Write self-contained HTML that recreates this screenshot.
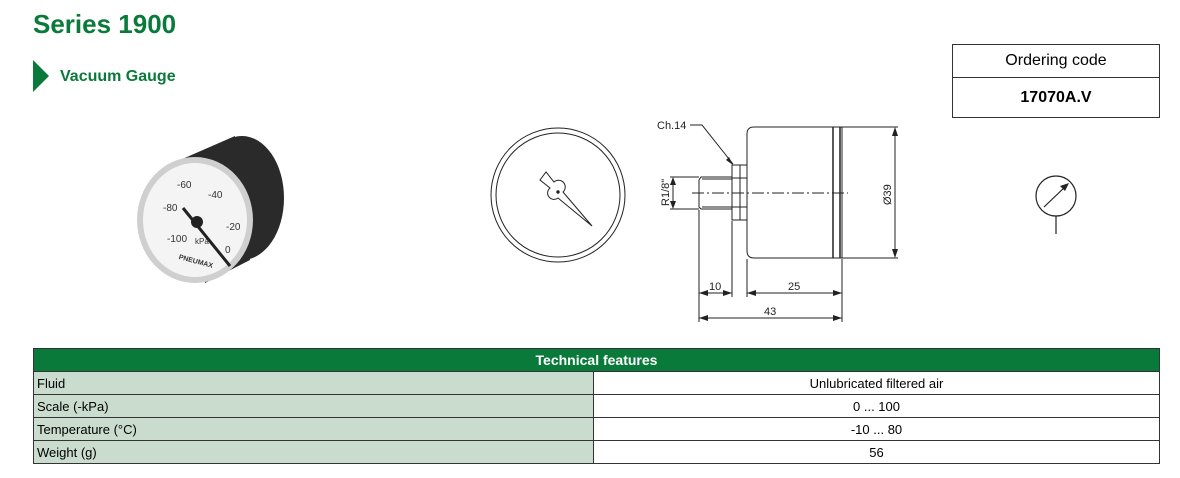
<!DOCTYPE html>
<html><head><style>
body{margin:0;width:1180px;height:478px;background:#fff;font-family:"Liberation Sans",Arial,sans-serif;position:relative;overflow:hidden}
.abs{position:absolute}
table{border-collapse:collapse}
td{border:1px solid #333;font-size:13px;height:22px;padding:0 3px}
</style></head><body>
<div class="abs" style="left:33px;top:9px;font-size:26px;font-weight:bold;color:#0a7a3a">Series 1900</div>
<div class="abs" style="left:33px;top:60px;width:0;height:0;border-top:16px solid transparent;border-bottom:16px solid transparent;border-left:16px solid #0a7a3a"></div>
<div class="abs" style="left:60px;top:68px;font-size:16px;font-weight:bold;color:#0a7a3a">Vacuum Gauge</div>
<div class="abs" style="left:952px;top:44px;width:206px;height:72px;border:1px solid #333">
 <div style="height:32px;border-bottom:1px solid #333;text-align:center;line-height:32px;font-size:16px">Ordering code</div>
 <div style="text-align:center;line-height:39px;font-size:16px;font-weight:bold">17070A.V</div>
</div>
<svg class="abs" style="left:0;top:0" width="1180" height="340">
 <g>
  <ellipse cx="242" cy="198" rx="42" ry="62" fill="#2a2a2a"/>
  <path d="M180 160 L235 136 L250 260 L205 283 Z" fill="#2a2a2a"/>
  <ellipse cx="195" cy="220" rx="58" ry="63" fill="#cfcfcf"/>
  <ellipse cx="195" cy="220" rx="52" ry="57" fill="#f4f4f4"/>
  <g font-size="10" fill="#333"><text x="177" y="188">-60</text><text x="208" y="198">-40</text><text x="163" y="211">-80</text><text x="226" y="230">-20</text><text x="167" y="242">-100</text><text x="225" y="253">0</text><text x="195" y="244" font-size="8">kPa</text></g>
  <line x1="183" y1="208" x2="230" y2="266" stroke="#222" stroke-width="3"/>
  <circle cx="197" cy="222" r="6" fill="#222"/>
  <text x="178" y="262" font-size="7" font-weight="bold" fill="#333" transform="rotate(15 190 262)">PNEUMAX</text>
 </g>
 <g fill="none" stroke="#222" stroke-width="1">
  <circle cx="558" cy="195" r="67"/><circle cx="558" cy="195" r="62"/>
  <path d="M540 180 L546 172 L554 182 A6 6 0 0 1 563 192 L592 226 L558 198 A6 6 0 0 1 550 188 Z"/>
  <circle cx="558" cy="192" r="1.2" fill="#222"/>
 </g>
 <g fill="none" stroke="#222" stroke-width="1">
  <path d="M754 127 L842 127 L842 258 L754 258 Q747 258 747 251 L747 134 Q747 127 754 127 Z"/>
  <line x1="833" y1="127" x2="833" y2="258" stroke-width="1.5"/><line x1="840" y1="127" x2="840" y2="258" stroke-width="1.5"/>
  <line x1="842" y1="127" x2="898" y2="127"/><line x1="842" y1="258" x2="898" y2="258"/>
  <line x1="895" y1="129" x2="895" y2="256"/>
  <rect x="732" y="165" width="8" height="55"/><rect x="740" y="165" width="7" height="55"/>
  <line x1="732" y1="178" x2="747" y2="178"/><line x1="732" y1="207" x2="747" y2="207"/>
  <path d="M732 177 L701 177 L699 180 L699 207 L701 209 L732 209"/>
  <line x1="702" y1="179" x2="732" y2="179"/><line x1="702" y1="207" x2="732" y2="207"/>
  <line x1="692" y1="193" x2="848" y2="193" stroke-dasharray="12 3 2 3"/>
  <line x1="670" y1="177" x2="699" y2="177"/><line x1="670" y1="209" x2="699" y2="209"/>
  <line x1="673" y1="179" x2="673" y2="207"/>
  <polyline points="690,125 702,125 733,164"/>
  <line x1="699" y1="210" x2="699" y2="322"/><line x1="732" y1="221" x2="732" y2="297"/>
  <line x1="747" y1="259" x2="747" y2="297"/><line x1="842" y1="259" x2="842" y2="322"/>
  <line x1="699" y1="293" x2="732" y2="293"/><line x1="747" y1="293" x2="842" y2="293"/><line x1="699" y1="318" x2="842" y2="318"/>
 </g>
 <g fill="#222">
  <path d="M895 127 l-3 9 h6z"/><path d="M895 258 l-3 -9 h6z"/>
  <path d="M673 177 l-3 8 h6z"/><path d="M673 209 l-3 -8 h6z"/>
  <path d="M733 165 l-7 -5 l3 -3z"/>
  <path d="M699 293 l9 -3 v6z"/><path d="M732 293 l-9 -3 v6z"/>
  <path d="M747 293 l9 -3 v6z"/><path d="M842 293 l-9 -3 v6z"/>
  <path d="M699 318 l9 -3 v6z"/><path d="M842 318 l-9 -3 v6z"/>
 </g>
 <g font-size="11" fill="#222">
  <text x="657" y="129">Ch.14</text>
  <text x="709" y="290">10</text><text x="788" y="290">25</text><text x="764" y="315">43</text>
  <text transform="translate(669 206) rotate(-90)">R1/8"</text>
  <text transform="translate(891 205) rotate(-90)">Ø39</text>
 </g>
 <g fill="none" stroke="#222" stroke-width="1.2">
  <circle cx="1056" cy="196" r="20"/><line x1="1056" y1="216" x2="1056" y2="234"/>
  <line x1="1044" y1="207" x2="1066" y2="186"/>
 </g>
 <path d="M1069 183 l-9 3 l5 5z" fill="#222"/>
</svg>
<table class="abs" style="left:33px;top:348px;width:1127px">
 <tr><td colspan="2" style="background:#0a7a3a;color:#fff;font-weight:bold;text-align:center;font-size:14px">Technical features</td></tr>
 <tr><td style="background:#c9dccd;width:553px">Fluid</td><td style="text-align:center">Unlubricated filtered air</td></tr>
 <tr><td style="background:#c9dccd">Scale (-kPa)</td><td style="text-align:center">0 ... 100</td></tr>
 <tr><td style="background:#c9dccd">Temperature (°C)</td><td style="text-align:center">-10 ... 80</td></tr>
 <tr><td style="background:#c9dccd">Weight (g)</td><td style="text-align:center">56</td></tr>
</table>
</body></html>
